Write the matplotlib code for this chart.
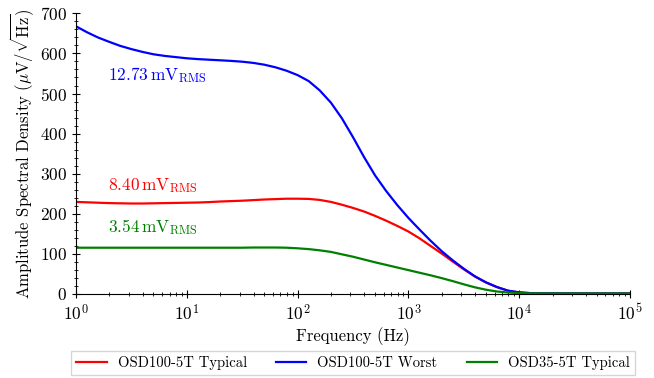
import matplotlib
matplotlib.use('Agg')
import matplotlib.pyplot as plt
from matplotlib.ticker import AutoMinorLocator

plt.rcParams['font.family'] = 'serif'
plt.rcParams['font.serif'] = ['cmr10']
plt.rcParams['mathtext.fontset'] = 'cm'
plt.rcParams['axes.formatter.use_mathtext'] = True

# frequency points (Hz)
freq = [1, 1.26, 1.58, 2.0, 2.51, 3.16, 3.98, 5.01, 6.31, 7.94,
        10, 12.6, 15.8, 20.0, 25.1, 31.6, 39.8, 50.1, 63.1, 79.4,
        100, 126, 158, 200, 251, 316, 398, 501, 631, 794,
        1000, 1259, 1585, 1995, 2512, 3162, 3981, 5012, 6310, 7943,
        10000, 12589, 15849, 31623, 100000]

osd100_typ = [229, 228, 227, 226, 225.5, 225, 225, 225.5, 226, 226.5,
              227, 227.5, 228.5, 230, 231, 232, 233.5, 235, 236, 237,
              237, 236.5, 234, 229, 222, 214, 205, 194, 182, 169,
              155, 138, 119, 100, 80, 60.5, 42.5, 27.5, 16, 7,
              2.5, 1, 0.5, 0.2, 0.1]

osd100_worst = [668, 653, 640, 629, 619, 611, 604, 598, 594, 591,
                588, 586, 584.5, 583, 581.5, 579.5, 576.5, 572, 565.5, 557,
                546, 531, 508, 477, 438, 391, 341, 295, 256, 221,
                189, 160, 132, 106, 83, 62, 43, 28, 16, 7,
                3, 1, 0.5, 0.2, 0.1]

osd35_typ = [114.5, 114.5, 114.5, 114.5, 114.5, 114.5, 114.5, 114.5, 114.5, 114.5,
             114.5, 114.5, 114.5, 114.5, 114.5, 114.5, 115, 115, 115, 114.5,
             113, 111, 108, 104, 98, 92, 85, 78, 71.5, 65,
             58.5, 52, 45.5, 38.5, 31, 23, 15.5, 9.5, 5, 2.5,
             1, 0.5, 0.3, 0.1, 0.05]

labels = ['OSD100-5T Typical', 'OSD100-5T Worst', 'OSD35-5T Typical']
rms = [r'$8.40\,\mathrm{mV}_{\mathrm{RMS}}$', r'$12.73\,\mathrm{mV}_{\mathrm{RMS}}$',
       r'$3.54\,\mathrm{mV}_{\mathrm{RMS}}$']
rms_y = [270, 545, 167]
colors = ['red', 'blue', 'green']

fig = plt.figure(figsize=(6.54, 3.78), dpi=100)
ax = fig.add_axes([0.1162, 0.2235, 0.8471, 0.7408])

for vals, lab, c in zip([osd100_typ, osd100_worst, osd35_typ], labels, colors):
    ax.plot(freq, vals, color=c, lw=1.6, label=lab)

for txt, y, c in zip(rms, rms_y, colors):
    ax.text(1.95, y, txt, color=c, fontsize=12.5, ha='left', va='center')

ax.set_xscale('log')
ax.set_xlim(1, 1e5)
ax.set_ylim(0, 700)
ax.yaxis.set_minor_locator(AutoMinorLocator(5))
ax.spines['top'].set_visible(False)
ax.spines['right'].set_visible(False)
ax.tick_params(which='major', direction='inout', length=6, labelsize=12.5)
ax.tick_params(which='minor', direction='inout', length=3)

ax.set_xlabel('Frequency (Hz)', fontsize=12, labelpad=3)
ax.set_ylabel(r'Amplitude Spectral Density ($\mu$V/$\sqrt{\mathrm{Hz}}$)', fontsize=12, labelpad=3)

ax.legend(loc='upper center', bbox_to_anchor=(0.5, -0.205), borderaxespad=0, ncol=3,
          fontsize=10.5, fancybox=False, edgecolor='#cccccc', columnspacing=2.0,
          handlelength=2.1, handletextpad=0.75, borderpad=0.35)

fig.savefig('out.png', dpi=100)
